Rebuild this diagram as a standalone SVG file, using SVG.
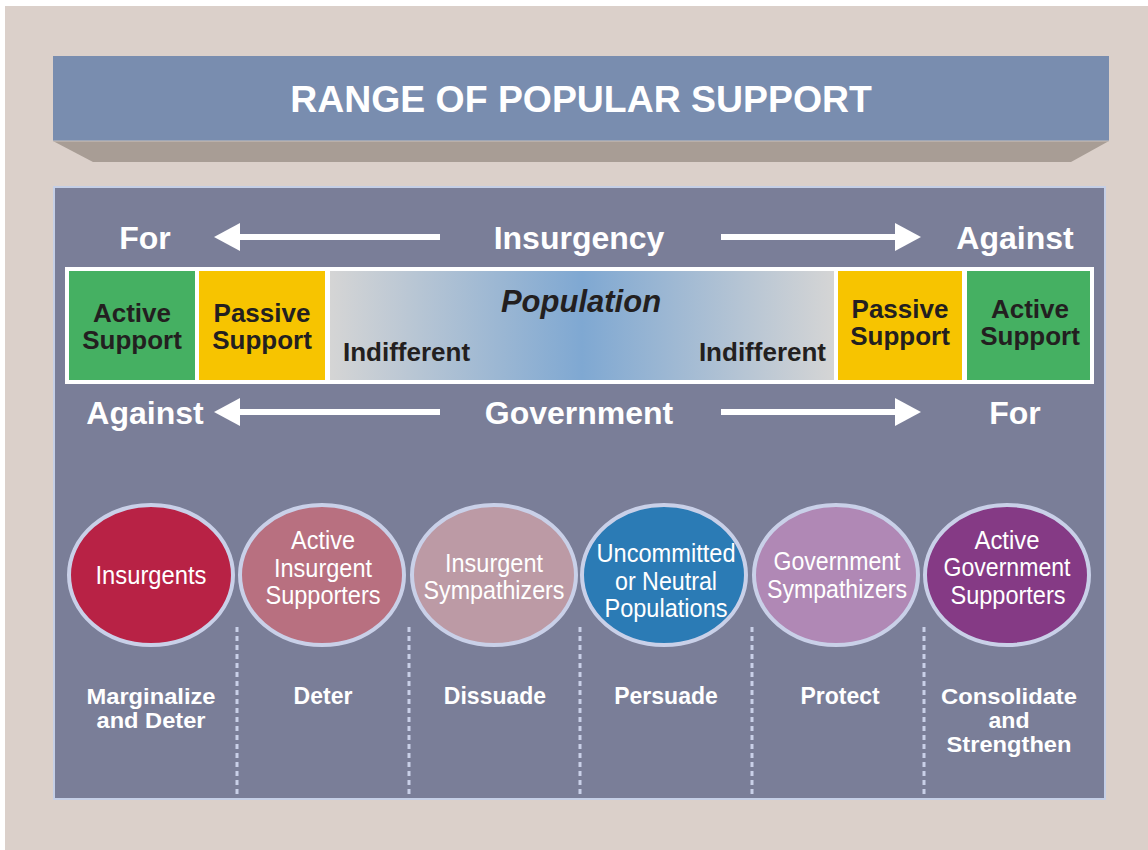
<svg xmlns="http://www.w3.org/2000/svg" width="1148" height="850" viewBox="0 0 1148 850">
<defs>
<linearGradient id="popg" x1="0" y1="0" x2="1" y2="0">
<stop offset="0" stop-color="#D5D5D5"/>
<stop offset="0.5" stop-color="#7FA8D2"/>
<stop offset="1" stop-color="#D5D5D5"/>
</linearGradient>
<marker id="ah" markerWidth="26" markerHeight="28" refX="1" refY="14" orient="auto" markerUnits="userSpaceOnUse">
<path d="M0,0 L26,14 L0,28 z" fill="#fff"/>
</marker>
<style>
.ttl{font-family:"Liberation Sans",Arial,sans-serif;font-weight:bold;font-size:37.4px;fill:#fff;text-anchor:middle}
.hdr{font-family:"Liberation Sans",Arial,sans-serif;font-weight:bold;font-size:32px;fill:#fff;text-anchor:middle}
.cell{font-family:"Liberation Sans",Arial,sans-serif;font-weight:bold;font-size:26px;fill:#231F20;text-anchor:middle}
.pop{font-family:"Liberation Sans",Arial,sans-serif;font-weight:bold;font-style:italic;font-size:31px;fill:#231F20;text-anchor:middle}
.circ{stroke:#C9D0E8;stroke-width:4}
.ct{font-family:"Liberation Sans",Arial,sans-serif;font-size:26px;fill:#fff;text-anchor:middle}
.act{font-family:"Liberation Sans",Arial,sans-serif;font-weight:bold;font-size:23px;fill:#fff;text-anchor:middle}
.act2{font-family:"Liberation Sans",Arial,sans-serif;font-weight:bold;font-size:22px;fill:#fff;text-anchor:middle}
.arr{stroke:#fff;stroke-width:6;fill:none;marker-end:url(#ah)}
.dash{stroke:#C9D0E8;stroke-width:3;stroke-dasharray:5 4}
</style>
</defs>
<rect x="0" y="0" width="1148" height="850" fill="#fff"/>
<rect x="5" y="6" width="1143" height="844" fill="#DBD0CA"/>
<g id="title">
<polygon points="53,141 1109,141 1071,162 93,162" fill="#A89D95"/>
<rect x="53" y="56" width="1056" height="85" fill="#798DAF"/>
<line x1="53" y1="141" x2="1109" y2="141" stroke="#C9C2BE" stroke-width="1"/>
<text class="ttl" x="581" y="112">RANGE OF POPULAR SUPPORT</text>
</g>
<g id="panel">
<rect x="54" y="187" width="1051" height="612" fill="#7A7E98" stroke="#C5CFE6" stroke-width="2"/>
</g>
<g id="labels">
<text class="hdr" x="145" y="249">For</text>
<text class="hdr" x="579" y="249">Insurgency</text>
<text class="hdr" x="1015" y="249">Against</text>
<text class="hdr" x="145" y="424">Against</text>
<text class="hdr" x="579" y="424">Government</text>
<text class="hdr" x="1015" y="424">For</text>
</g>
<g id="connectors">
<line class="arr" x1="440" y1="237" x2="239" y2="237"/>
<line class="arr" x1="721" y1="237" x2="896" y2="237"/>
<line class="arr" x1="440" y1="412" x2="239" y2="412"/>
<line class="arr" x1="721" y1="412" x2="896" y2="412"/>
<line class="dash" x1="237" y1="627" x2="237" y2="797"/>
<line class="dash" x1="409" y1="627" x2="409" y2="797"/>
<line class="dash" x1="580" y1="627" x2="580" y2="797"/>
<line class="dash" x1="752" y1="627" x2="752" y2="797"/>
<line class="dash" x1="924" y1="627" x2="924" y2="797"/>
</g>
<g id="band">
<rect x="65" y="267" width="1029" height="117" fill="#fff"/>
</g>
<g id="active-support-left">
<rect x="69" y="271" width="126" height="109" fill="#45B062"/>
<text class="cell" x="132" y="322">Active</text>
<text class="cell" x="132" y="349">Support</text>
</g>
<g id="passive-support-left">
<rect x="199" y="271" width="126" height="109" fill="#F7C400"/>
<text class="cell" x="262" y="322">Passive</text>
<text class="cell" x="262" y="349">Support</text>
</g>
<g id="population">
<rect x="330" y="271" width="504" height="109" fill="url(#popg)"/>
<text class="pop" x="581" y="312">Population</text>
<text class="cell" x="343" y="361" style="text-anchor:start">Indifferent</text>
<text class="cell" x="826" y="361" style="text-anchor:end">Indifferent</text>
</g>
<g id="passive-support-right">
<rect x="838" y="271" width="124" height="109" fill="#F7C400"/>
<text class="cell" x="900" y="318">Passive</text>
<text class="cell" x="900" y="345">Support</text>
</g>
<g id="active-support-right">
<rect x="967" y="271" width="123" height="109" fill="#45B062"/>
<text class="cell" x="1030" y="318">Active</text>
<text class="cell" x="1030" y="345">Support</text>
</g>
<g id="insurgents">
<ellipse class="circ" cx="151" cy="575" rx="82" ry="70" fill="#B82245"/>
<text class="ct" x="151" y="584" textLength="111" lengthAdjust="spacingAndGlyphs">Insurgents</text>
</g>
<g id="active-insurgent-supporters">
<ellipse class="circ" cx="322" cy="575" rx="82" ry="70" fill="#B87080"/>
<text class="ct" x="323" y="549" textLength="64" lengthAdjust="spacingAndGlyphs">Active</text>
<text class="ct" x="323" y="577" textLength="98" lengthAdjust="spacingAndGlyphs">Insurgent</text>
<text class="ct" x="323" y="604" textLength="115" lengthAdjust="spacingAndGlyphs">Supporters</text>
</g>
<g id="insurgent-sympathizers">
<ellipse class="circ" cx="494" cy="575" rx="82" ry="70" fill="#BC9AA5"/>
<text class="ct" x="494" y="572" textLength="98" lengthAdjust="spacingAndGlyphs">Insurgent</text>
<text class="ct" x="494" y="599" textLength="141" lengthAdjust="spacingAndGlyphs">Sympathizers</text>
</g>
<g id="uncommitted">
<ellipse class="circ" cx="664" cy="575" rx="82" ry="70" fill="#2B7BB5"/>
<text class="ct" x="666" y="562" textLength="139" lengthAdjust="spacingAndGlyphs">Uncommitted</text>
<text class="ct" x="666" y="590" textLength="102" lengthAdjust="spacingAndGlyphs">or Neutral</text>
<text class="ct" x="666" y="617" textLength="123" lengthAdjust="spacingAndGlyphs">Populations</text>
</g>
<g id="government-sympathizers">
<ellipse class="circ" cx="836" cy="575" rx="82" ry="70" fill="#B088B5"/>
<text class="ct" x="837" y="570" textLength="127" lengthAdjust="spacingAndGlyphs">Government</text>
<text class="ct" x="837" y="598" textLength="140" lengthAdjust="spacingAndGlyphs">Sympathizers</text>
</g>
<g id="active-government-supporters">
<ellipse class="circ" cx="1007" cy="575" rx="82" ry="70" fill="#853A85"/>
<text class="ct" x="1007" y="549" textLength="65" lengthAdjust="spacingAndGlyphs">Active</text>
<text class="ct" x="1007" y="576" textLength="127" lengthAdjust="spacingAndGlyphs">Government</text>
<text class="ct" x="1008" y="604" textLength="115" lengthAdjust="spacingAndGlyphs">Supporters</text>
</g>
<g id="actions">
<text class="act2" x="151" y="704" textLength="129" lengthAdjust="spacingAndGlyphs">Marginalize</text>
<text class="act2" x="151" y="728" textLength="109" lengthAdjust="spacingAndGlyphs">and Deter</text>
<text class="act" x="323" y="704">Deter</text>
<text class="act" x="495" y="704">Dissuade</text>
<text class="act" x="666" y="704">Persuade</text>
<text class="act" x="840" y="704">Protect</text>
<text class="act2" x="1009" y="704" textLength="136" lengthAdjust="spacingAndGlyphs">Consolidate</text>
<text class="act2" x="1009" y="728" textLength="41" lengthAdjust="spacingAndGlyphs">and</text>
<text class="act2" x="1009" y="752" textLength="125" lengthAdjust="spacingAndGlyphs">Strengthen</text>
</g>
</svg>
